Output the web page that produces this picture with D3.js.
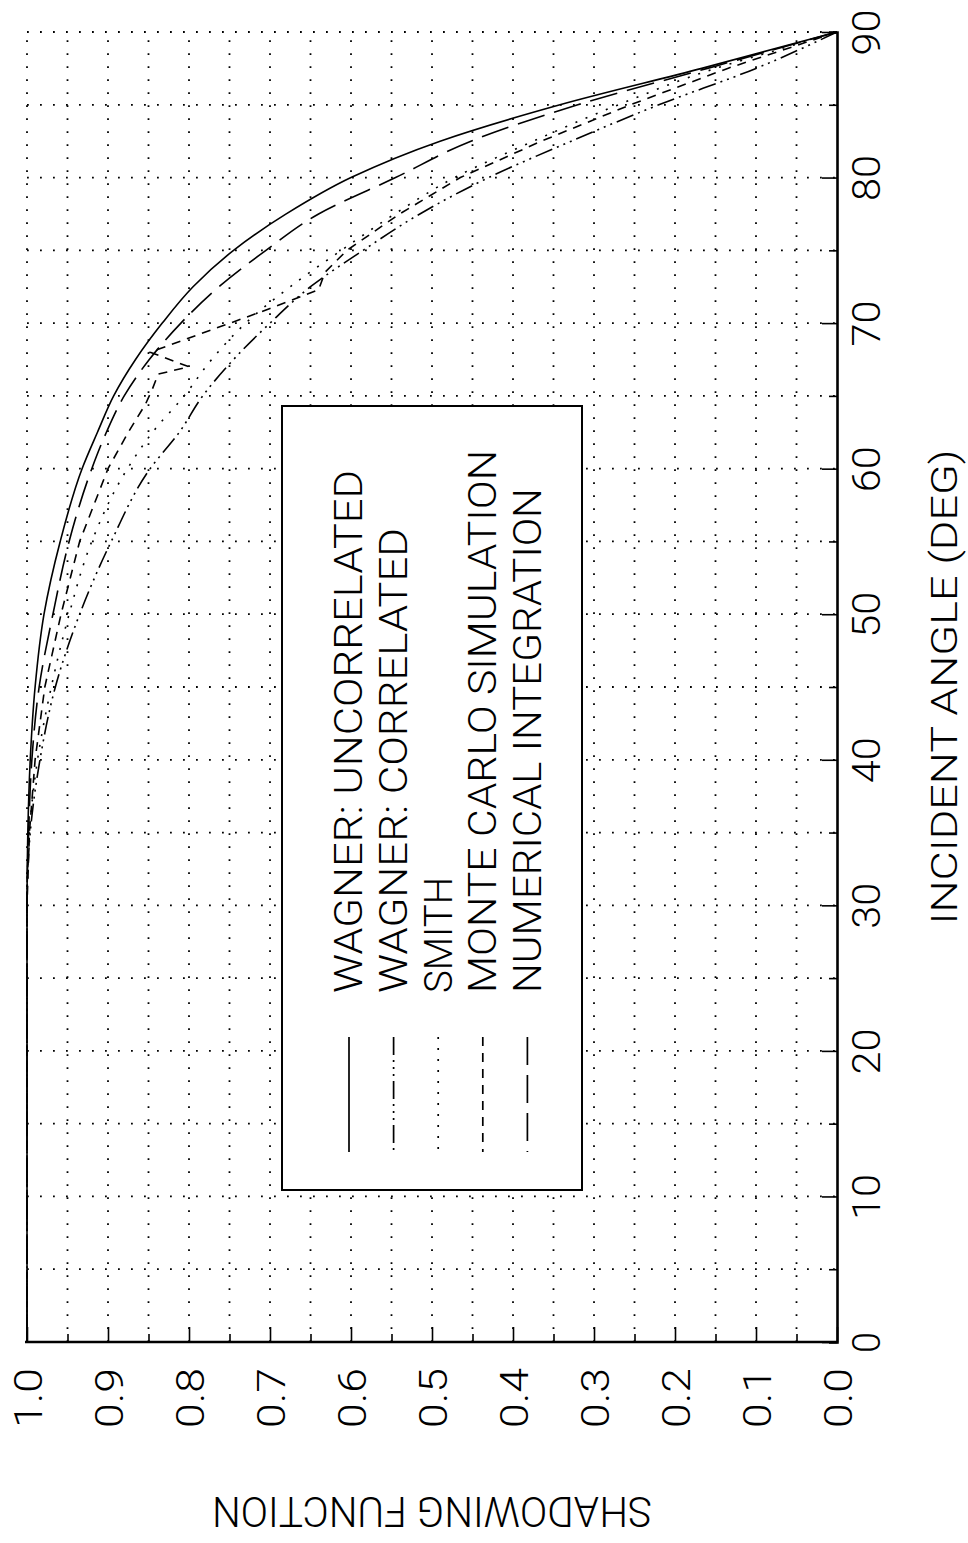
<!DOCTYPE html>
<html><head><meta charset="utf-8">
<script src="https://cdn.jsdelivr.net/npm/d3@7"></script>
<style>body{margin:0;background:#fff}svg{display:block}</style>
</head><body><svg id="chart"></svg>
<script>
// ---- data ----
const angleTickValues = [0,5,10,15,20,25,30,35,40,45,50,55,60,65,70,75,80,85,90];
const angleTickLabels = ["0","","10","","20","","30","","40","","50","","60","","70","","80","","90"];
const valueTickValues = [0,0.05,0.1,0.15,0.2,0.25,0.3,0.35,0.4,0.45,0.5,0.55,0.6,0.65,0.7,0.75,0.8,0.85,0.9,0.95,1.0];
const valueTickLabels = ["0.0","","0.1","","0.2","","0.3","","0.4","","0.5","","0.6","","0.7","","0.8","","0.9","","1.0"];
const seriesNames = ["WAGNER: UNCORRELATED","WAGNER: CORRELATED","SMITH","MONTE CARLO SIMULATION","NUMERICAL INTEGRATION"];
const xTitle = "INCIDENT ANGLE (DEG)";
const yTitle = "SHADOWING FUNCTION";

// [incident angle (deg), shadowing function]
const wagnerUncorrelated = [[0,1],[30,1],[35,0.999],[40,0.996],[45,0.99],[50,0.979],[55,0.959],[60,0.932],[62.5,0.913],[65,0.893],[67.5,0.866],[70,0.833],[72.5,0.795],[75,0.745],[77.5,0.68],[80,0.60],[82.5,0.49],[85,0.342],[87.5,0.167],[90,0]];
const wagnerCorrelated = [[0,1],[30,1],[35,0.996],[40,0.984],[45,0.965],[50,0.935],[55,0.896],[60,0.848],[62.5,0.812],[65,0.783],[67.5,0.745],[70,0.70],[72.5,0.65],[75,0.585],[77.5,0.515],[80,0.43],[82.5,0.328],[85,0.22],[87.5,0.10],[90,0]];
const smith = [[0,1],[30,1],[35,0.997],[40,0.987],[45,0.97],[50,0.948],[55,0.92],[60,0.876],[62.5,0.845],[65,0.806],[67.5,0.772],[70,0.73],[72.5,0.675],[75,0.612],[77.5,0.546],[80,0.472],[82.5,0.375],[85,0.27],[87.5,0.15],[88.5,0.09],[90,0]];
const monteCarlo = [[0,1],[30,1],[35,0.997],[40,0.99],[45,0.978],[50,0.958],[55,0.935],[60,0.90],[62.5,0.875],[64.4,0.854],[65.5,0.845],[66.5,0.838],[67,0.80],[68,0.848],[71,0.70],[72.3,0.64],[73.5,0.632],[75,0.605],[77.5,0.54],[80,0.465],[82.5,0.365],[85,0.255],[87.5,0.135],[90,0]];
const numericalIntegration = [[0,1],[30,1],[35,0.998],[40,0.994],[45,0.985],[50,0.968],[55,0.948],[60,0.92],[62.5,0.902],[65,0.88],[67.5,0.849],[70,0.81],[72.5,0.763],[75,0.705],[77.5,0.64],[80,0.545],[82.5,0.452],[85,0.32],[87.5,0.16],[90,0]];
const seriesData = [wagnerUncorrelated, wagnerCorrelated, smith, monteCarlo, numericalIntegration];
const seriesDash = [null, "18 5 2 5 2 5 2 5", "2 9", "9 7", "28 10"];
const seriesSmooth = [true, true, true, false, true];

// ---- layout ----
const W = 968, H = 1543;
const FONT = "Roboto, 'Liberation Sans', Arial, sans-serif";
const FW = 300;
const svg = d3.select("#chart").attr("width", W).attr("height", H)
  .style("background", "#fff");

const yA = d3.scaleLinear().domain([0, 90]).range([1342, 32]);   // angle -> vertical
const xV = d3.scaleLinear().domain([0, 1]).range([837, 27]);     // shadowing -> horizontal

// gridlines (dotted)
const grid = svg.append("g").attr("stroke", "#000").attr("stroke-width", 1.8)
  .attr("stroke-dasharray", "1.8 11.2").attr("fill", "none");
grid.selectAll("line.h").data(angleTickValues.filter(d => d > 0)).join("line")
  .attr("x1", xV(1)).attr("x2", xV(0)).attr("y1", d => yA(d)).attr("y2", d => yA(d));
grid.selectAll("line.v").data(valueTickValues.filter(d => d > 0)).join("line")
  .attr("x1", d => xV(d)).attr("x2", d => xV(d)).attr("y1", yA(0)).attr("y2", yA(90));

// curves
const lineSmooth = d3.line().x(d => xV(d[1])).y(d => yA(d[0])).curve(d3.curveMonotoneY);
const lineStraight = d3.line().x(d => xV(d[1])).y(d => yA(d[0]));
seriesData.forEach((s, i) => {
  const sorted = s.slice().sort((a, b) => b[0] - a[0]);
  svg.append("path")
    .attr("d", seriesSmooth[i] ? lineSmooth(sorted) : lineStraight(sorted))
    .attr("fill", "none").attr("stroke", "#000").attr("stroke-width", 1.6)
    .attr("stroke-dasharray", seriesDash[i]);
});

// legend
const lg = svg.append("g");
lg.append("rect").attr("x", 282).attr("y", 406).attr("width", 300).attr("height", 784)
  .attr("fill", "#fff").attr("stroke", "#000").attr("stroke-width", 2);
const legendLen = [523, 465, 116, 543, 505];
seriesNames.forEach((name, i) => {
  const lx = 349 + i * 44.6;
  lg.append("line").attr("x1", lx).attr("x2", lx).attr("y1", 1037).attr("y2", 1152)
    .attr("stroke", "#000").attr("stroke-width", 1.7).attr("stroke-dasharray", seriesDash[i]);
  const bx = 362 + i * 44.8;
  lg.append("text").attr("transform", `translate(${bx},993) rotate(-90)`)
    .attr("font-family", FONT).attr("font-size", 38).attr("font-weight", FW)
    .attr("textLength", legendLen[i]).attr("lengthAdjust", "spacingAndGlyphs")
    .text(name);
});

// right axis (incident angle)
const ax = svg.append("g").attr("transform", `translate(${xV(0)},0)`)
  .call(d3.axisRight(yA).tickValues(angleTickValues).tickSizeOuter(0).tickSize(-8)
    .tickFormat((d, i) => angleTickLabels[i]));
ax.select(".domain").attr("stroke-width", 2.6);
ax.selectAll(".tick line").attr("stroke-width", 1.6).attr("x2", d => d % 10 === 0 ? -15 : -8);
ax.selectAll(".tick text").attr("dy", null)
  .attr("transform", "rotate(-90)").attr("x", 0).attr("y", 43)
  .attr("text-anchor", "middle").attr("font-family", FONT).attr("font-size", 38)
  .attr("font-weight", FW).attr("fill", "#000")
  .each(function(){ const t = d3.select(this).text(); if (t.length === 2) d3.select(this).attr("textLength", 46).attr("lengthAdjust", "spacingAndGlyphs"); });

// bottom axis (shadowing function)
const bxAxis = svg.append("g").attr("transform", `translate(0,${yA(0)})`)
  .call(d3.axisBottom(xV).tickValues(valueTickValues).tickSizeOuter(0).tickSize(-8)
    .tickFormat((d, i) => valueTickLabels[i]));
bxAxis.select(".domain").attr("stroke-width", 2.6).attr("d", `M${xV(1) - 2},0H${xV(0) + 1}`);
bxAxis.selectAll(".tick line").attr("stroke-width", 1.6)
  .attr("y2", (d, i) => i % 2 === 0 ? -15 : -8);
bxAxis.selectAll(".tick text").attr("dy", null)
  .attr("transform", "rotate(-90)").attr("x", -26).attr("y", 14)
  .attr("text-anchor", "end").attr("font-family", FONT).attr("font-size", 39)
  .attr("font-weight", FW).attr("fill", "#000")
  .attr("textLength", 60).attr("lengthAdjust", "spacingAndGlyphs");

// axis titles
svg.append("text").attr("transform", `translate(957,${(yA(0) + yA(90)) / 2}) rotate(-90)`)
  .attr("text-anchor", "middle").attr("font-family", FONT).attr("font-size", 37)
  .attr("font-weight", FW).attr("textLength", 475).attr("lengthAdjust", "spacingAndGlyphs")
  .text(xTitle);
svg.append("text").attr("transform", `translate(${(xV(0) + xV(1)) / 2},1497) rotate(180)`)
  .attr("text-anchor", "middle").attr("font-family", FONT).attr("font-size", 42)
  .attr("font-weight", FW).attr("textLength", 440).attr("lengthAdjust", "spacingAndGlyphs")
  .text(yTitle);
</script>
</body></html>
